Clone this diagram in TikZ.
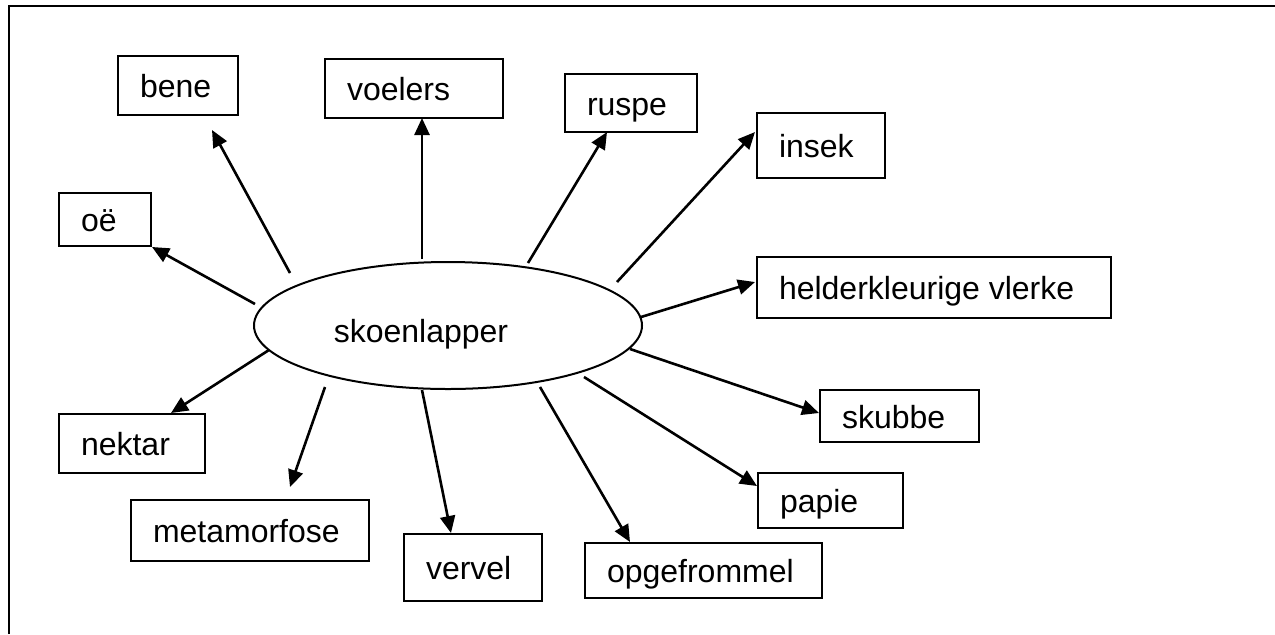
\documentclass[tikz,border=0pt]{standalone}
\usepackage{fontspec}
\setmainfont{Liberation Sans}
\usetikzlibrary{arrows.meta,shapes.geometric}
\tikzset{
  wbox/.style={draw, line width=1pt, rectangle, anchor=north west, inner xsep=11pt, inner ysep=0pt,
    text height=12pt, text depth=0pt, font=\fontsize{16}{19}\selectfont},
  oval/.style={draw, line width=1pt, ellipse, inner sep=0pt, minimum width=194pt, minimum height=63.5pt,
    text height=16.5pt, text depth=0pt, font=\fontsize{16}{19}\selectfont},
  arr/.style={line width=1.3pt, -{Triangle[length=8.5pt,width=7.5pt]}},
  frame/.style={line width=1.25pt}
}
\newcommand{\bx}[7]{\node[wbox, minimum width=#4pt, minimum height=#5pt] (#1) at (#2,#3) {\makebox[#6pt][l]{#7}};}
\begin{document}
\begin{tikzpicture}[x=0.5pt,y=-0.5pt]
\useasboundingbox (0,0) rectangle (1275,634);
\draw[frame] (9,634) -- (9,6) -- (1275,6);

\node[oval] (c) at (448,325.5) {skoenlapper\hspace*{27pt}};

\bx{bene}{117}{55}{60}{29.5}{38}{bene}
\bx{voelers}{324}{58}{89}{29.5}{67}{voelers}
\bx{ruspe}{564}{73}{66}{29}{44}{ruspe}
\bx{insek}{756}{112}{64}{32.5}{42}{insek}
\bx{helder}{756}{256}{177}{30.5}{155}{helderkleurige vlerke}
\bx{skubbe}{819}{389}{79.5}{26}{57.5}{skubbe}
\bx{papie}{757}{472}{72.5}{27.5}{50.5}{papie}
\bx{opgef}{584}{542}{118.5}{27.5}{96.5}{opgefrommel}
\bx{vervel}{403}{533}{69}{33.5}{47}{vervel}
\bx{metam}{130}{499}{119}{30.5}{97}{metamorfose}
\bx{nektar}{58}{413}{73}{29.5}{51}{nektar}
\bx{oe}{58}{192}{46}{26.5}{24}{oë}

% start points near the ellipse
\coordinate (s-bene) at (290,273);
\coordinate (s-voelers) at (422,259);
\coordinate (s-ruspe) at (528,263);
\coordinate (s-insek) at (617,282);
\coordinate (s-helder) at (641,317);
\coordinate (s-skubbe) at (630,349);
\coordinate (s-papie) at (584,377);
\coordinate (s-opgef) at (540,387);
\coordinate (s-vervel) at (422,390);
\coordinate (s-metam) at (325,387);
\coordinate (s-nektar) at (269,350);
\coordinate (s-oe) at (255,304);
% arrow tips at the boxes
\coordinate (t-bene) at (212,130);
\coordinate (t-voelers) at (422,118);
\coordinate (t-ruspe) at (607,132);
\coordinate (t-insek) at (755,132);
\coordinate (t-helder) at (755,282);
\coordinate (t-skubbe) at (819,413);
\coordinate (t-papie) at (757,486);
\coordinate (t-opgef) at (630,542);
\coordinate (t-vervel) at (451,533);
\coordinate (t-metam) at (290,487);
\coordinate (t-nektar) at (171,413);
\coordinate (t-oe) at (152,247);

\foreach \n in {bene,voelers,ruspe,insek,helder,skubbe,papie,opgef,vervel,metam,nektar,oe}
  \draw[arr] (s-\n) -- (t-\n);
\end{tikzpicture}
\end{document}
